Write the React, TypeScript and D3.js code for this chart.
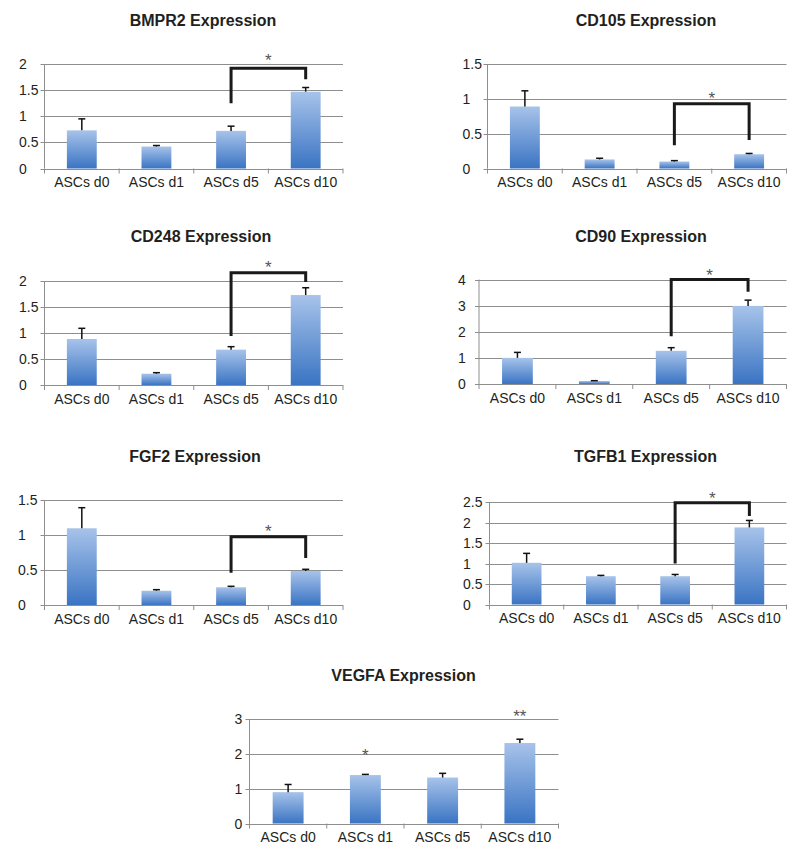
import React from "react";
import * as d3 from "d3";

const categories = ["ASCs d0", "ASCs d1", "ASCs d5", "ASCs d10"];

const titles = [
  "BMPR2 Expression",
  "CD105 Expression",
  "CD248 Expression",
  "CD90 Expression",
  "FGF2 Expression",
  "TGFB1 Expression",
  "VEGFA Expression",
];

const bmpr2Values = [0.73, 0.42, 0.72, 1.47];
const bmpr2Errors = [0.22, 0.02, 0.09, 0.08];
const cd105Values = [0.89, 0.13, 0.1, 0.205];
const cd105Errors = [0.225, 0.017, 0.013, 0.011];
const cd248Values = [0.885, 0.217, 0.68, 1.73];
const cd248Errors = [0.205, 0.02, 0.057, 0.14];
const cd90Values = [1.0, 0.115, 1.27, 2.99];
const cd90Errors = [0.21, 0.012, 0.12, 0.22];
const fgf2Values = [1.096, 0.204, 0.253, 0.486];
const fgf2Errors = [0.294, 0.015, 0.014, 0.024];
const tgfb1Values = [1.017, 0.69, 0.69, 1.88];
const tgfb1Errors = [0.23, 0.02, 0.043, 0.17];
const vegfaValues = [0.9, 1.39, 1.32, 2.31];
const vegfaErrors = [0.22, 0.02, 0.12, 0.11];

const yTicks = [
  [0, 0.5, 1, 1.5, 2],
  [0, 0.5, 1, 1.5],
  [0, 0.5, 1, 1.5, 2],
  [0, 1, 2, 3, 4],
  [0, 0.5, 1, 1.5],
  [0, 0.5, 1, 1.5, 2, 2.5],
  [0, 1, 2, 3],
];

// bracket: [leftBottom, top, rightBottom] between d5 and d10
const brackets: (number[] | null)[] = [
  [1.25, 1.92, 1.71],
  [0.335, 0.93, 0.41],
  [0.94, 2.16, 1.98],
  [1.83, 4.0, 3.53],
  [0.46, 0.976, 0.67],
  [1.0, 2.48, 2.16],
  null,
];
// stars: [categoryIndex (-1 = bracket centre), value, label]
const stars: [number, number, string][][] = [
  [[-1, 2.14, "*"]],
  [[-1, 1.05, "*"]],
  [[-1, 2.32, "*"]],
  [[-1, 4.29, "*"]],
  [[-1, 1.1, "*"]],
  [[-1, 2.67, "*"]],
  [
    [1, 2.06, "*"],
    [3, 3.16, "**"],
  ],
];

const seriesValues = [bmpr2Values, cd105Values, cd248Values, cd90Values, fgf2Values, tgfb1Values, vegfaValues];
const seriesErrors = [bmpr2Errors, cd105Errors, cd248Errors, cd90Errors, fgf2Errors, tgfb1Errors, vegfaErrors];

// layout (pixels)
const layouts = [
  { left: 44.5, right: 343, top: 64, bottom: 168.5, titleX: 203, titleY: 26, labelOff: 25.5 },
  { left: 487.5, right: 786.5, top: 64, bottom: 168.5, titleX: 646, titleY: 26, labelOff: 25 },
  { left: 44.5, right: 343, top: 281, bottom: 385, titleX: 201, titleY: 241.5, labelOff: 25.5 },
  { left: 479, right: 786.5, top: 279.5, bottom: 384, titleX: 641, titleY: 241.5, labelOff: 21 },
  { left: 44.5, right: 343, top: 500, bottom: 605, titleX: 195, titleY: 461.5, labelOff: 26.5 },
  { left: 489.5, right: 786.5, top: 502, bottom: 604.5, titleX: 645.5, titleY: 461.5, labelOff: 26.5 },
  { left: 249.5, right: 558.5, top: 719, bottom: 823.5, titleX: 403.5, titleY: 680.5, labelOff: 15 },
];

const FONT = "'Liberation Sans', Arial, sans-serif";
const GRID = "#8e8e8e";
const TEXT = "#231f20";

function Panel({ i }: { i: number }) {
  const L = layouts[i];
  const ticks = yTicks[i];
  const vals = seriesValues[i];
  const errs = seriesErrors[i];
  const x = d3.scaleBand<string>().domain(categories).range([L.left, L.right]).paddingInner(0.6).paddingOuter(0.3);
  const y = d3.scaleLinear().domain([0, ticks[ticks.length - 1]]).range([L.bottom, L.top]);
  const step = x.step();
  const bw = x.bandwidth();
  const cx = (k: number) => (x(categories[k]) as number) + bw / 2;
  const boundaries = categories.map((c) => (x(c) as number) - step * 0.3).concat([L.right]);
  const fmt = (v: number) => String(v);
  const br = brackets[i];
  return (
    <g>
      <text x={L.titleX} y={L.titleY} textAnchor="middle" fontFamily={FONT} fontWeight="bold" fontSize={16} fill={TEXT}>
        {titles[i]}
      </text>
      {ticks.map((t) => (
        <g key={t}>
          <line x1={L.left - 4} x2={L.right} y1={Math.round(y(t)) + 0.5} y2={Math.round(y(t)) + 0.5} stroke={GRID} strokeWidth={1} />
          <text x={L.left - L.labelOff} y={y(t)} dy="0.36em" fontFamily={FONT} fontSize={14} fill={TEXT}>
            {fmt(t)}
          </text>
        </g>
      ))}
      <line x1={L.left} x2={L.left} y1={L.top} y2={L.bottom} stroke={GRID} strokeWidth={1} />
      {boundaries.map((b, k) => (
        <line key={k} x1={b} x2={b} y1={L.bottom} y2={L.bottom + 5} stroke={GRID} strokeWidth={1} />
      ))}
      {categories.map((c, k) => (
        <g key={c}>
          <rect x={x(c)} y={y(vals[k])} width={bw} height={y(0) - y(vals[k])} fill="url(#barGrad)" />
          <line x1={cx(k)} x2={cx(k)} y1={y(vals[k])} y2={y(vals[k] + errs[k])} stroke="#111" strokeWidth={1.5} />
          <line x1={cx(k) - 3.5} x2={cx(k) + 3.5} y1={y(vals[k] + errs[k])} y2={y(vals[k] + errs[k])} stroke="#111" strokeWidth={1.5} />
          <text x={cx(k)} y={L.bottom + 18.5} textAnchor="middle" fontFamily={FONT} fontSize={14} fill={TEXT}>
            {c}
          </text>
        </g>
      ))}
      {br && (
        <path
          d={`M${cx(2)},${y(br[0])}V${y(br[1])}H${cx(3)}V${y(br[2])}`}
          fill="none"
          stroke="#1a1a1a"
          strokeWidth={3}
        />
      )}
      {stars[i].map(([k, v, s], j) => {
        const sx = k < 0 ? (cx(2) + cx(3)) / 2 : cx(k);
        return (
          <text key={j} x={sx} y={y(v) + 9} textAnchor="middle" fontFamily={FONT} fontSize={17} fill="#555">
            {s}
          </text>
        );
      })}
    </g>
  );
}

export default function App() {
  return (
    <svg width={800} height={865} style={{ position: "absolute", left: 0, top: 0, background: "#fff" }}>
      <defs>
        <linearGradient id="barGrad" x1="0" y1="0" x2="0" y2="1">
          <stop offset="0" stopColor="#a7c3ea" />
          <stop offset="1" stopColor="#3a74c3" />
        </linearGradient>
      </defs>
      <rect width={800} height={865} fill="#fff" />
      {titles.map((_, i) => (
        <Panel key={i} i={i} />
      ))}
    </svg>
  );
}
